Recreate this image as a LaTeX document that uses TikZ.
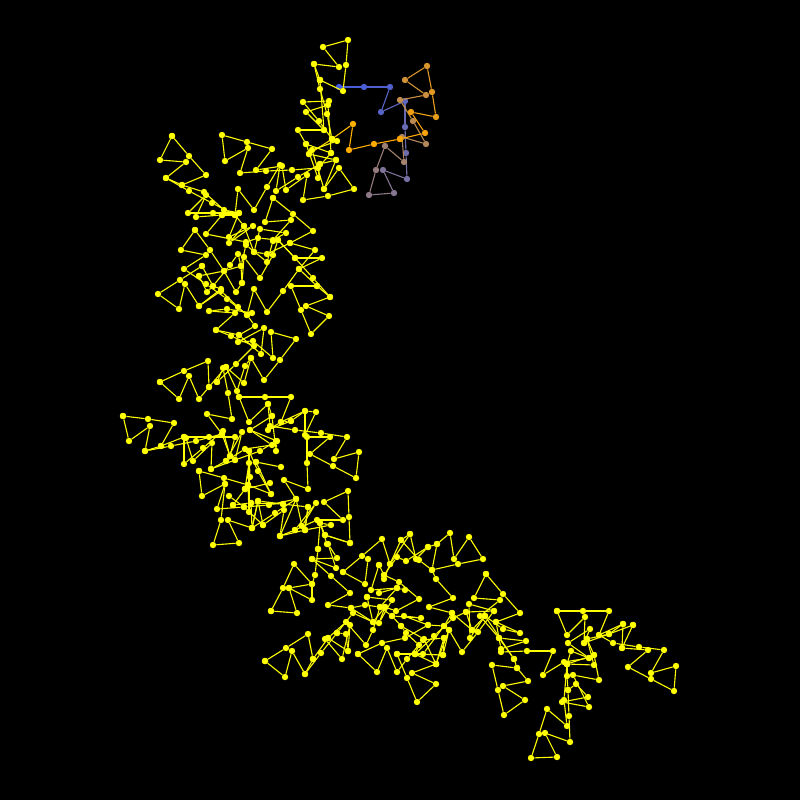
\documentclass[tikz,border=0pt]{standalone}
\definecolor{royalblue}{RGB}{65,90,225}
\definecolor{amber}{RGB}{255,165,0}
\definecolor{lemon}{RGB}{255,255,0}
\tikzset{
  dot/.style={circle,fill=#1,inner sep=0pt,minimum size=6.4pt},
  dot/.default=lemon,
  link/.style={draw=#1,line width=1.1pt},
  link/.default=lemon
}
\newcommand{\chain}[2]{%
  \foreach \px/\py [count=\i] in {#2} {
    \node[dot] (#1\i) at (\px,\py) {};
    \ifnum\i>1
      \pgfmathtruncatemacro{\j}{\i-1}
      \draw[link] (#1\j) -- (#1\i);
    \fi
  }
}
\begin{document}
\begin{tikzpicture}[x=1pt,y=-1pt]
  \fill[black] (0,0) rectangle (800,800);
  % coloured head of the walk
  \foreach \px/\py/\t [count=\i] in {339/87/0,364/87/4,390/87/8,381/112/12,405/101/16,405/127/20,406/153/24,407/179/28,383/170/32,394/193/36,369/195/40,376/170/44,385/146/48,404/162/52,402/137/56,426/144/60,413/121/64,400/100/68,426/95/72,405/80/76,427/66/80,432/92/84,436/117/88,411/112/92,425/133/96,400/139/100} {
    \colorlet{fade}{amber!\t!royalblue}
    \node[dot=fade] (h\i) at (\px,\py) {};
    \ifnum\i>1
      \pgfmathtruncatemacro{\j}{\i-1}
      \draw[link=fade] (h\j) -- (h\i);
    \fi
  }
  \foreach \px/\py/\t [count=\i] in {400/139/0,374/144/5,349/150/10,353/124/15,332/139/25,309/154/50} {
    \colorlet{fade}{lemon!\t!amber}
    \node[dot=fade] (k\i) at (\px,\py) {};
    \ifnum\i>1
      \pgfmathtruncatemacro{\j}{\i-1}
      \draw[link=fade] (k\j) -- (k\i);
    \fi
  }
  % top
  \chain{ta}{320/80,343/91,346/65,348/40,323/47,339/67,314/64,320/89,327/114,332/139}
  \chain{tb}{320/80,324/130,306/112,328/105,331/153,306/144,298/130,324/130}
  \chain{tc}{329/101,303/102,319/121,332/139}
  \chain{td}{314/64,320/80}
  \chain{te}{337/141,312/150,324/189,339/168,354/189,328/196,303/200,307/175,286/190,282/166,256/170,272/149,247/142,222/135,225/161,248/148,240/173,266/171,292/170,318/168,331/153}
  \chain{tf}{309/154,336/160,324/189}
  \chain{tg}{306/144,318/178,320/164,298/177,276/191,280/165,267/187,254/210,238/189,235/215}
  \chain{th}{336/160,320/164}
  % upper left
  \chain{ua}{172/136,160/160,186/162,166/178,182/185,206/175,189/156,172/136}
  \chain{ub}{166/178,189/191,212/203,235/215,244/226}
  \chain{uc}{182/185,204/192,224/210,239/213,213/213,188/213,206/195,196/217,222/215,235/215}
  \chain{ud}{273/198,293/214,313/231,290/243,315/250,299/269,322/258,295/258,278/240,258/238,246/242,206/234,222/215}
  \chain{ue}{273/198,265/222,291/220,273/240,286/233,260/229,254/252,244/226,229/243,253/226,229/237,239/213}
  % middle
  \chain{ma}{195/230,181/250,206/255,184/269,206/284,227/299,247/315,255/326,239/335,216/330,235/313,209/311,227/309,252/313}
  \chain{mb}{195/230,210/250,224/271,236/292,242/283,244/257,260/278,273/255,278/240,295/258,313/278,330/297}
  \chain{mc}{202/266,180/280,158/294,179/309,185/284,199/306,221/289,213/286,202/266}
  \chain{md}{199/276,224/271,241/266,238/254,230/265,213/286,207/292,199/276}
  \chain{me}{199/306,221/291,238/307,247/315,254/289,267/312,283/291,299/269,317/286,330/297,306/306,329/316,311/334,301/310,291/286,317/286}
  \chain{mf}{242/283,241/266,246/245,267/262,273/241}
  \chain{mg}{254/252,267/254,290/243}
  % waist
  \chain{na}{160/382,179/399,189/376,199/399,209/387,208/361,184/371,160/382}
  \chain{nb}{209/387,226/367,237/391,245/366,251/358,264/380,280/360,296/339,271/332,273/358,253/341,238/342,264/328,261/354,239/335}
  \chain{nc}{217/382,236/364,254/346,231/336,216/330}
  \chain{nd}{217/382,223/368,228/393,232/419,207/414,222/434}
  \chain{ne}{226/367,244/383,251/358}
  % lower left
  \chain{la}{123/416,148/419,174/423,161/446,145/451,150/426,129/441,123/416}
  \chain{lb}{145/451,171/446,196/441,222/434,230/456,235/437,209/437,184/437,161/446}
  \chain{lc}{184/437,184/464,203/448,223/431,230/456}
  \chain{ld}{186/438,193/461,212/443,211/469,226/461,242/432,235/460,211/469}
  \chain{le}{239/397,265/397,291/397,281/422,291/421,305/411,316/412,305/435,305/411,281/422,268/430,291/421}
  \chain{lf}{239/397,249/422,268/404,270/426,295/430,321/433,347/437,334/459,359/452,356/478,333/466,310/454,330/437,307/437,307/463,308/489,284/480,296/499}
  \chain{lg}{268/404,272/416,250/430,277/441,276/451,272/416}
  \chain{lh}{250/430,272/445,245/449,226/461}
  \chain{li}{235/460,260/451,276/441}
  \chain{lj}{199/471,224/478,248/485,271/494,258/471,249/451,250/477,248/485}
  \chain{lk}{199/471,202/496,225/484,217/509,244/507,269/505,296/499,280/536,305/530,331/525,320/523,327/544}
  \chain{ll}{245/489,270/483}
  \chain{lm}{245/489,249/463,256/462,281/467}
  \chain{ln}{256/462,271/494}
  \chain{lo}{249/451,249/512,248/485}
  \chain{lp}{229/496,244/507,263/525,258/501,283/504,308/507,305/530}
  \chain{lq}{233/505,245/489}
  \chain{lr}{233/505,251/503,283/504}
  \chain{ls}{251/503,252/528,228/520,239/543,213/545,221/520,225/484}
  \chain{lt}{252/528,258/501,252/528,275/513,296/499,302/526,316/503,295/530,280/536}
  \chain{lu}{263/525,284/510,280/536}
  \chain{lv}{295/530,317/520,343/520,324/502,348/491,349/517,350/543,325/535,320/523,318/549}
  \chain{lw}{305/530,308/507}
  % lower middle
  \chain{pa}{265/661,286/648,308/634,313/659,305/674,292/651,285/677,265/661}
  \chain{pb}{305/674,321/653,337/633,353/613,373/622,351/608,328/605,350/593,331/576,312/559,337/558,328/544,336/568,312/559}
  \chain{pc}{313/659,328/638,346/622,366/645,373/630,380/607,365/605,351/608}
  \chain{pd}{271/611,283/588,294/564,312/584,289/588,297/613,271/611}
  \chain{pe}{289/588,312/600,312/584,315/575,318/549}
  \chain{pf}{325/535,350/543}
  \chain{pg}{325/639,342/659,350/625,348/651,328/638}
  \chain{ph}{337/633,346/634,348/651}
  \chain{pi}{343/572,362/556,382/539,390/564,401/540,410/534,416/559,428/547,437/544,450/533,454/559,469/537,483/559,458/564,432/570,437/544}
  \chain{pj}{343/572,365/584,368/559}
  \chain{pk}{379/565,371/590,397/588,405/590}
  \chain{pl}{379/565,384/575,399/582,419/599,396/611,385/607}
  \chain{pm}{384/575,397/557,406/561,428/547}
  \chain{pn}{384/579,390/564,410/534}
  \chain{po}{401/540,419/560,432/570,436/579,453/598,429/607,452/613,472/630,466/612,453/618,434/636,415/654}
  \chain{pp}{367/597,392/600,379/623,385/607,373/622,367/597}
  \chain{pq}{379/593,397/588,380/607,392/616,421/618,404/616,428/625}
  \chain{pr}{358/654,382/643,405/638,428/625,444/626,452/613}
  \chain{ps}{358/654,377/672,387/648,397/672,407/659,423/640,444/638,436/664,412/673,436/684,417/702,407/678,397/654,423/654,444/626}
  \chain{pt}{401/626,406/633,419/645,415/654,436/664}
  \chain{pu}{397/654,415/654,443/655,449/630,436/664}
  \chain{pv}{444/638,443/655}
  \chain{pw}{392/616,401/626,424/639,436/664}
  % right
  \chain{ra}{449/630,462/652,478/632,494/611,469/604,470/638,485/616,472/630}
  \chain{rb}{466/612,494/611}
  \chain{rc}{486/574,474/598,500/600,480/616,499/638,514/659,517/668,492/665,498/690,504/715,525/700,503/686,528/681,517/668}
  \chain{rd}{486/574,503/594,520/613,496/622,520/633,503/629,485/616,514/659}
  \chain{re}{496/622,501/649,526/641,499/638}
  \chain{rf}{501/652,527/651,553/651,543/675,564/662,589/658}
  \chain{rg}{557/611,583/611,609/611,599/635,613/643,639/647,664/650,651/673,676/666,674/691,651/679,628/667,648/650,622/648,623/624,599/635}
  \chain{rh}{557/611,567/635,585/617,584/643,590/629,568/643,589/658,571/651,567/664,567/676,568/690,569/716,570/742,545/733,557/757,531/758,539/734,547/709,567/726,564/700,567/664}
  \chain{ri}{633/625,622/648}
  \chain{rj}{633/625,609/634,587/639,594/665,567/664}
  \chain{rk}{623/624,609/634,584/643}
  \chain{rl}{587/639,594/655,599/680,573/675,589/707,562/702,588/697,576/684,568/690}
  \chain{rm}{594/655,567/664}
\end{tikzpicture}
\end{document}
